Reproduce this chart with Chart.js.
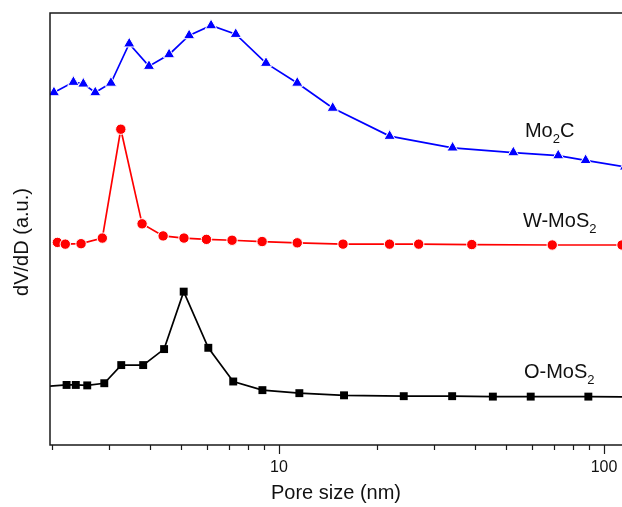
<!DOCTYPE html>
<html>
<head>
<meta charset="utf-8">
<script src="https://cdn.jsdelivr.net/npm/chart.js@4.4.0/dist/chart.umd.min.js"></script>
<style>
  html, body { margin: 0; padding: 0; background: #fff; }
  #wrap { width: 622px; height: 507px; }
</style>
</head>
<body>
<div id="wrap"><canvas id="poreChart" width="622" height="507"></canvas></div>
<script>
// DATA (pore size in nm, dV/dD in arbitrary units, curves offset)
const mo2cX = [2.03, 2.33, 2.50, 2.72, 3.04, 3.46, 3.98, 4.59, 5.29, 6.18, 7.36, 9.12, 11.38, 14.63, 21.9, 34.2, 52.6, 72.3, 87.8, 116];
const mo2cY = [81.6, 84.0, 83.6, 81.6, 83.8, 92.9, 87.7, 90.4, 94.8, 97.1, 95.1, 88.4, 83.8, 78.0, 71.5, 68.8, 67.7, 67.0, 65.9, 64.4];

const wMoS2X = [2.08, 2.20, 2.46, 2.86, 3.26, 3.79, 4.40, 5.10, 5.98, 7.17, 8.87, 11.38, 15.74, 21.88, 26.9, 39.2, 69.3, 113.6];
const wMoS2Y = [46.9, 46.5, 46.6, 47.9, 73.1, 51.2, 48.4, 47.9, 47.6, 47.4, 47.1, 46.8, 46.5, 46.5, 46.5, 46.4, 46.3, 46.3];

const oMoS2X = [1.85, 2.22, 2.37, 2.57, 2.90, 3.27, 3.82, 4.43, 5.09, 6.06, 7.23, 8.89, 11.55, 15.85, 24.2, 34.1, 45.5, 59.5, 89.5, 125];
const oMoS2Y = [13.5, 13.9, 13.9, 13.8, 14.3, 18.5, 18.5, 22.2, 35.5, 22.5, 14.7, 12.7, 12.0, 11.5, 11.3, 11.3, 11.2, 11.2, 11.2, 11.1];

// x axis ticks
const majorTicks = [10, 100];
const minorTicks = [2, 3, 4, 5, 6, 7, 8, 9, 20, 30, 40, 50, 60, 70, 80, 90];

// curve labels (text parts + anchor in data units)
const labelMain = ['Mo', 'W-MoS', 'O-MoS'];
const labelSub = ['2', '2', '2'];
const labelTail = ['C', '', ''];
const labelX = [57.1, 56.3, 56.7];
const labelY = [71.3, 50.5, 15.5];

const FONT = "'Liberation Sans', Arial, sans-serif";

function toPoints(xs, ys) {
    return xs.map((x, i) => ({ x: x, y: ys[i] }));
}

// FRAME, TICK MARKS, LABELS
const decorPlugin = {
    id: 'decor',
    afterDraw(chart) {
        const ctx = chart.ctx;
        const area = chart.chartArea;
        const xs = chart.scales.x;
        const ys = chart.scales.y;

        ctx.save();
        ctx.strokeStyle = '#1a1a1a';
        ctx.lineWidth = 1.5;
        ctx.beginPath();
        ctx.moveTo(area.right + 2, area.top);
        ctx.lineTo(area.left, area.top);
        ctx.lineTo(area.left, area.bottom);
        ctx.lineTo(area.right + 2, area.bottom);
        ctx.stroke();

        ctx.lineWidth = 1.2;
        ctx.beginPath();
        majorTicks.forEach(v => {
            const px = Math.round(xs.getPixelForValue(v)) + 0.5;
            ctx.moveTo(px, area.bottom);
            ctx.lineTo(px, area.bottom + 9);
        });
        minorTicks.forEach(v => {
            const px = Math.round(xs.getPixelForValue(v)) + 0.5;
            ctx.moveTo(px, area.bottom);
            ctx.lineTo(px, area.bottom + 5);
        });
        ctx.stroke();

        // curve labels
        ctx.fillStyle = '#111';
        ctx.textBaseline = 'alphabetic';
        ctx.textAlign = 'left';
        for (let i = 0; i < labelMain.length; i++) {
            let px = xs.getPixelForValue(labelX[i]);
            const py = ys.getPixelForValue(labelY[i]);
            ctx.font = '20px ' + FONT;
            ctx.fillText(labelMain[i], px, py);
            px += ctx.measureText(labelMain[i]).width;
            ctx.font = '13px ' + FONT;
            ctx.fillText(labelSub[i], px, py + 6);
            px += ctx.measureText(labelSub[i]).width;
            if (labelTail[i]) {
                ctx.font = '20px ' + FONT;
                ctx.fillText(labelTail[i], px, py);
            }
        }

        // y axis title
        ctx.font = '20px ' + FONT;
        ctx.textAlign = 'center';
        ctx.textBaseline = 'middle';
        ctx.translate(22, 242);
        ctx.rotate(-Math.PI / 2);
        ctx.fillText('dV/dD (a.u.)', 0, 0);
        ctx.restore();
    }
};

const ctx = document.getElementById('poreChart').getContext('2d');
new Chart(ctx, {
    type: 'line',
    data: {
        datasets: [
            {
                label: 'Mo2C',
                data: toPoints(mo2cX, mo2cY),
                borderColor: '#0000ff',
                backgroundColor: '#0000ff',
                borderWidth: 1.7,
                pointStyle: 'triangle',
                pointRadius: 6.5,
                pointBorderColor: '#ffffff',
                pointBorderWidth: 1,
                pointBackgroundColor: '#0000ff'
            },
            {
                label: 'W-MoS2',
                data: toPoints(wMoS2X, wMoS2Y),
                borderColor: '#ff0000',
                backgroundColor: '#ff0000',
                borderWidth: 1.7,
                pointStyle: 'circle',
                pointRadius: 5.2,
                pointBorderColor: '#ffffff',
                pointBorderWidth: 1,
                pointBackgroundColor: '#ff0000'
            },
            {
                label: 'O-MoS2',
                data: toPoints(oMoS2X, oMoS2Y),
                borderColor: '#000000',
                backgroundColor: '#000000',
                borderWidth: 1.7,
                pointStyle: 'rect',
                pointRadius: 5.6,
                pointBorderColor: '#000000',
                pointBorderWidth: 0,
                pointBackgroundColor: '#000000'
            }
        ]
    },
    options: {
        responsive: false,
        animation: false,
        devicePixelRatio: 1,
        layout: { autoPadding: false, padding: { left: 50, top: 13, right: 0, bottom: 0 } },
        plugins: {
            legend: { display: false },
            tooltip: { enabled: false }
        },
        elements: { line: { tension: 0 } },
        scales: {
            x: {
                type: 'logarithmic',
                min: 1.974,
                max: 113.6,
                grid: { display: false, drawTicks: true, tickLength: 13 },
                border: { display: false },
                ticks: {
                    autoSkip: false,
                    maxRotation: 0,
                    padding: 0,
                    color: '#111',
                    font: { family: FONT, size: 16 },
                    callback: function(value) {
                        return majorTicks.includes(value) ? String(value) : '';
                    }
                },
                title: {
                    display: true,
                    text: 'Pore size (nm)',
                    color: '#111',
                    font: { family: FONT, size: 20 },
                    padding: { top: 0, bottom: 2 }
                },
                afterFit: function(scale) {
                    scale.height = 62;
                }
            },
            y: {
                type: 'linear',
                display: false,
                min: 0,
                max: 100
            }
        }
    },
    plugins: [decorPlugin]
});
</script>
</body>
</html>
